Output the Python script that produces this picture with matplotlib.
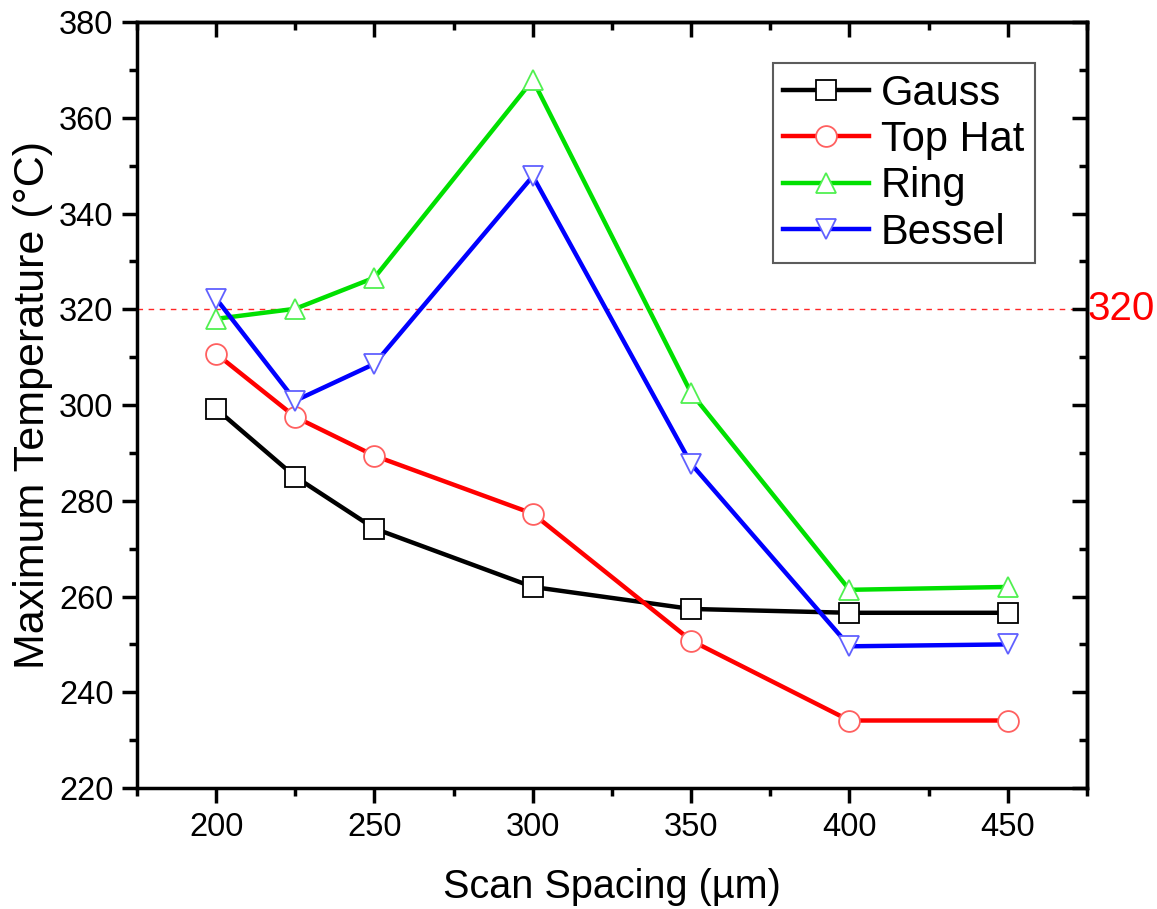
import numpy as np
import matplotlib
matplotlib.use('Agg')
import matplotlib.pyplot as plt
from matplotlib.ticker import MultipleLocator

plt.rcParams['font.family'] = ['Liberation Sans', 'DejaVu Sans']

spacing = [200, 225, 250, 300, 350, 400, 450]
gauss = [299.2, 285.0, 274.2, 262.0, 257.4, 256.6, 256.6]
top_hat = [310.7, 297.5, 289.4, 277.3, 250.8, 234.1, 234.1]
ring = [318.0, 320.1, 326.6, 367.9, 302.5, 261.4, 262.0]
bessel = [322.2, 300.9, 308.6, 347.8, 287.7, 249.6, 250.0]
limit_temp = 320

series = [
    ('Gauss', gauss, 'black', '#000000', 's'),
    ('Top Hat', top_hat, 'red', '#ff6060', 'o'),
    ('Ring', ring, '#00e000', '#50f050', '^'),
    ('Bessel', bessel, 'blue', '#6060ff', 'v'),
]

fig = plt.figure(figsize=(11.57, 9.09), dpi=100)
ax = fig.add_axes([0.1184, 0.1331, 0.8211, 0.8427])

for name, vals, col, mcol, mk in series:
    ax.plot(spacing, vals, color=col, lw=3.2, marker=mk, ms=15,
            mfc='white', mec=mcol, mew=1.3, label=name)

ax.axhline(limit_temp, color='red', lw=1, ls=(0, (4, 4)), alpha=0.85, zorder=0)
ax.text(1.0, limit_temp, '320', transform=ax.get_yaxis_transform(),
        color='red', fontsize=29, va='center', ha='left')

ax.set_xlim(175, 475)
ax.set_ylim(220, 380)
ax.xaxis.set_major_locator(MultipleLocator(50))
ax.xaxis.set_minor_locator(MultipleLocator(25))
ax.yaxis.set_major_locator(MultipleLocator(20))
ax.yaxis.set_minor_locator(MultipleLocator(10))

for s in ax.spines.values():
    s.set_linewidth(2.5)
ax.tick_params(which='major', direction='out', length=11, width=2.5,
               labelsize=23.5, pad=6)
ax.tick_params(which='minor', direction='out', length=6, width=2.5)

# inward ticks on top and right, no labels
top = ax.secondary_xaxis('top')
top.xaxis.set_major_locator(MultipleLocator(50))
top.xaxis.set_minor_locator(MultipleLocator(25))
top.tick_params(which='major', direction='in', length=11, width=2.5, labeltop=False)
top.tick_params(which='minor', direction='in', length=6, width=2.5)
right = ax.secondary_yaxis('right')
right.yaxis.set_major_locator(MultipleLocator(20))
right.yaxis.set_minor_locator(MultipleLocator(10))
right.tick_params(which='major', direction='in', length=11, width=2.5, labelright=False)
right.tick_params(which='minor', direction='in', length=6, width=2.5)
for sa in (top, right):
    for s in sa.spines.values():
        s.set_linewidth(2.5)

ax.set_xlabel('Scan Spacing (µm)', fontsize=28.5, labelpad=18)
ax.set_ylabel('Maximum Temperature (°C)', fontsize=31, labelpad=4)

leg = ax.legend(loc='upper right', bbox_to_anchor=(0.945, 0.946), fontsize=30,
                frameon=True, fancybox=False, edgecolor='#333333',
                handlelength=2.05, handletextpad=0.3, borderpad=0.25,
                labelspacing=0.15, borderaxespad=0)
leg.get_frame().set_linewidth(1.5)

fig.savefig('out.png', dpi=100)
